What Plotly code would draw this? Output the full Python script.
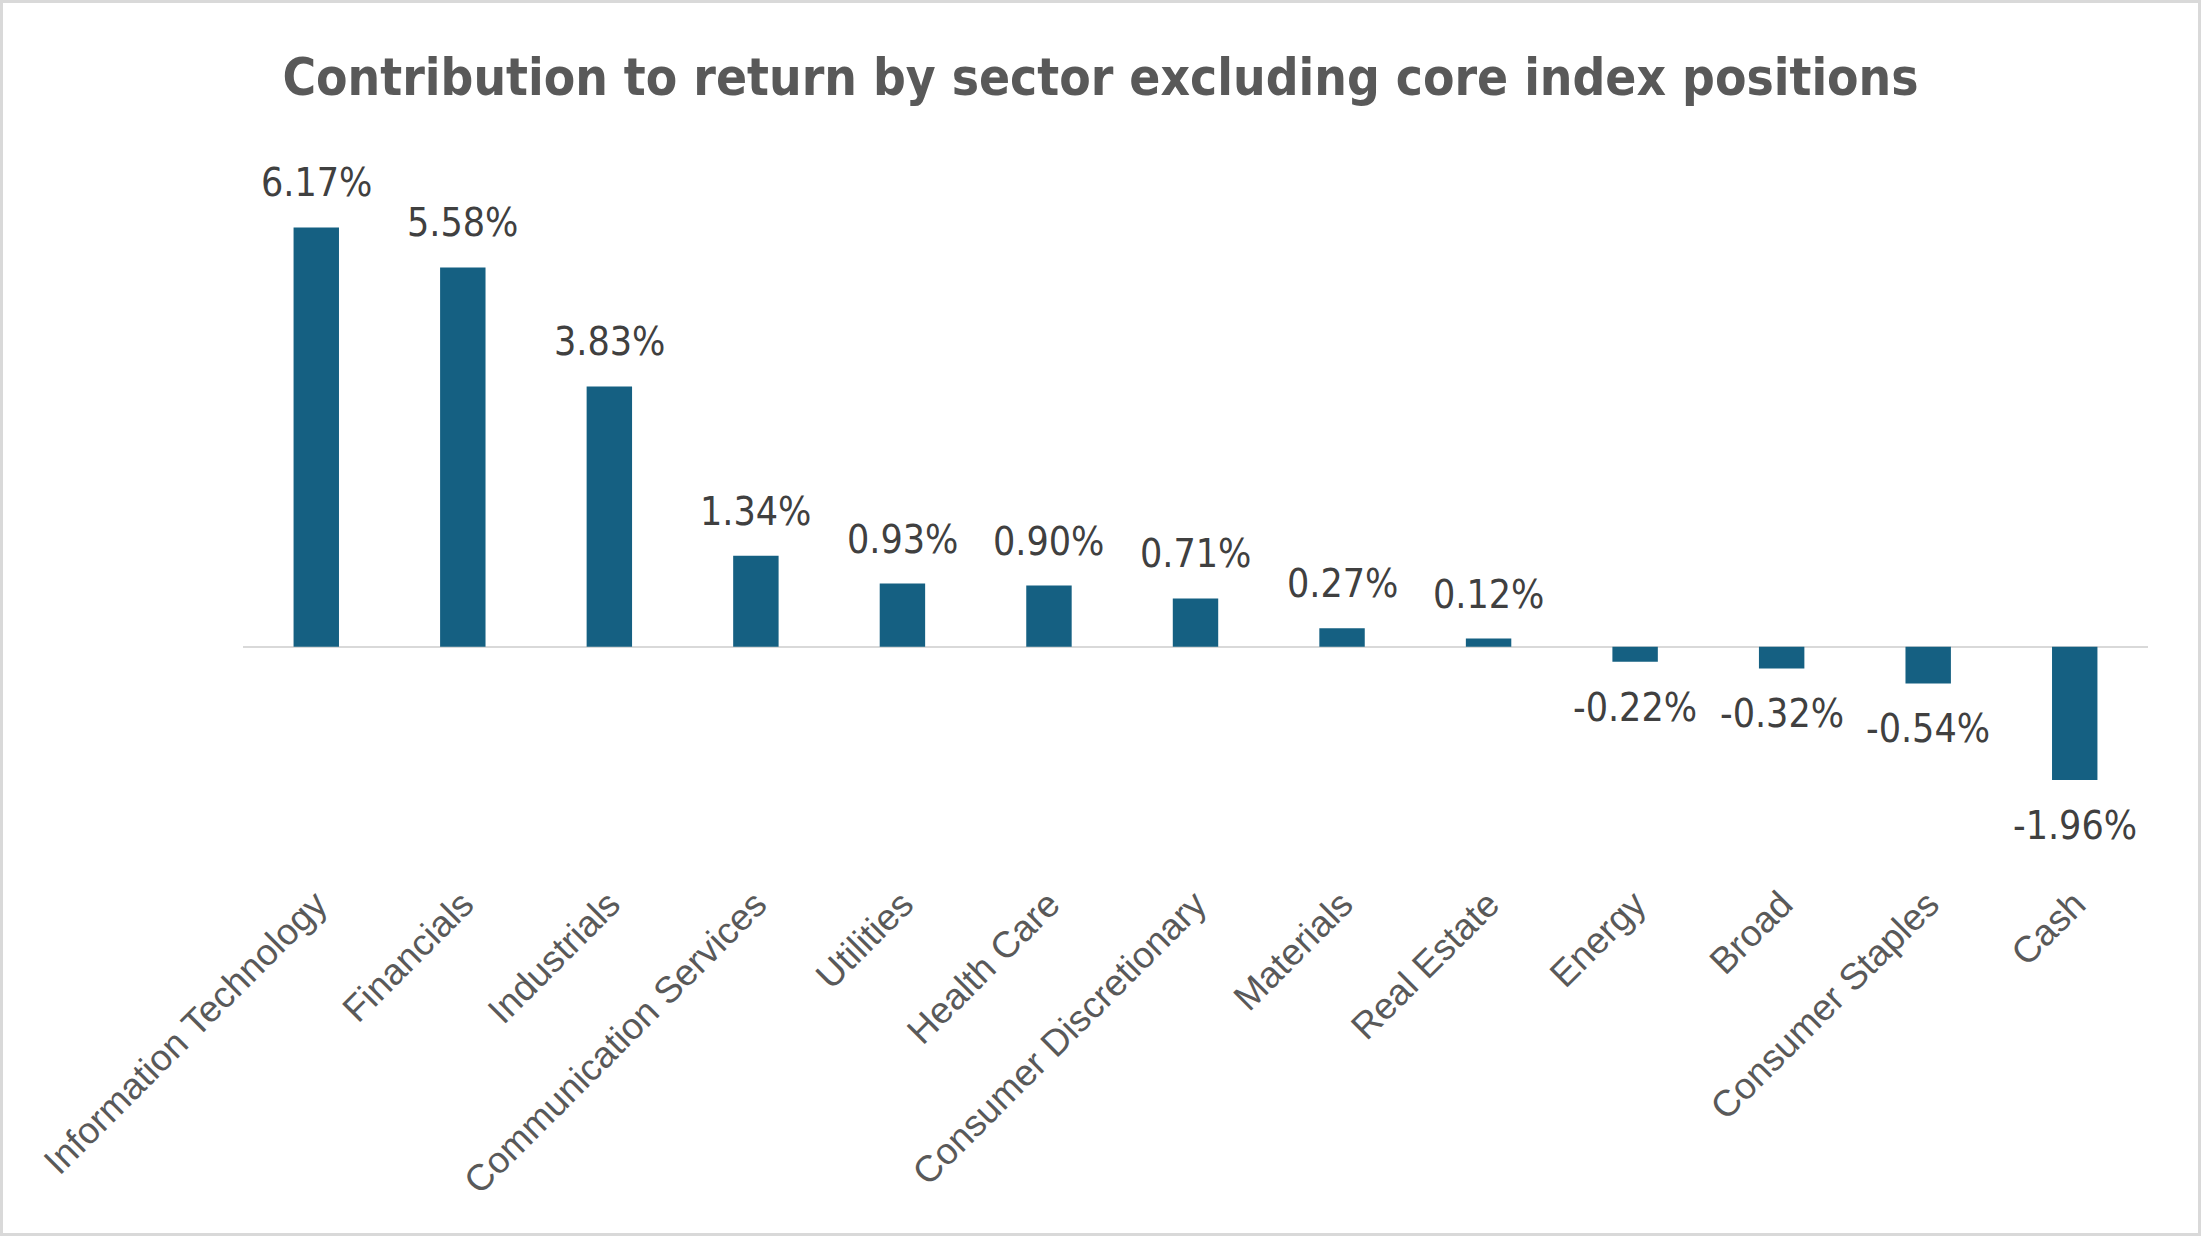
import plotly.graph_objects as go

categories = ["Information Technology", "Financials", "Industrials", "Communication Services",
              "Utilities", "Health Care", "Consumer Discretionary", "Materials", "Real Estate",
              "Energy", "Broad", "Consumer Staples", "Cash"]
values = [6.17, 5.58, 3.83, 1.34, 0.93, 0.90, 0.71, 0.27, 0.12, -0.22, -0.32, -0.54, -1.96]
labels = [f"{v:.2f}%" for v in values]
title_text = "Contribution to return by sector excluding core index positions"

W, H = 2201, 1236
ML, MR, MT, MB = 243, 53, 137, 365
YMIN, YMAX = -3.3, 7.5

BAR = "#156082"
NARROW = "Liberation Sans Narrow, Arial Narrow, DejaVu Sans Condensed, sans-serif"

fig = go.Figure()
fig.add_trace(go.Bar(x=categories, y=values, marker=dict(color=BAR, line=dict(width=0)),
                     hoverinfo="skip"))

for c, v, t in zip(categories, values, labels):
    fig.add_annotation(x=c, y=v, text=t, showarrow=False,
                       yanchor="bottom" if v >= 0 else "top",
                       yshift=20 if v >= 0 else -21,
                       font=dict(family=NARROW, size=39, color="#404040"))

pw = W - ML - MR
ph = H - MT - MB
fig.add_shape(type="rect", xref="paper", yref="paper",
              x0=(-ML + 1.5) / pw, x1=1 + (MR - 1.5) / pw,
              y0=(-MB + 1.5) / ph, y1=1 + (MT - 1.5) / ph,
              line=dict(color="#D9D9D9", width=3), fillcolor="rgba(0,0,0,0)", layer="below")

fig.update_layout(
    width=W, height=H,
    margin=dict(l=ML, r=MR, t=MT, b=MB, autoexpand=False),
    paper_bgcolor="white", plot_bgcolor="white",
    bargap=0.69, showlegend=False,
    title=dict(text=f"<b>{title_text}</b>", x=0.5, xanchor="center",
               y=1 - 77 / H, yanchor="middle", yref="container",
               font=dict(family=NARROW, size=51, color="#595959")),
    xaxis=dict(type="category", tickangle=-45, showline=False, showgrid=False, ticks="",
               ticklabelstandoff=3,
               tickfont=dict(family="Liberation Sans, Arial, sans-serif", size=37, color="#595959")),
    yaxis=dict(range=[YMIN, YMAX], showticklabels=False, showgrid=False, showline=False, ticks="",
               zeroline=True, zerolinecolor="#D9D9D9", zerolinewidth=2),
)

fig.write_html("out.html", config={"displayModeBar": False},
               post_script="document.body.style.margin='0';")
